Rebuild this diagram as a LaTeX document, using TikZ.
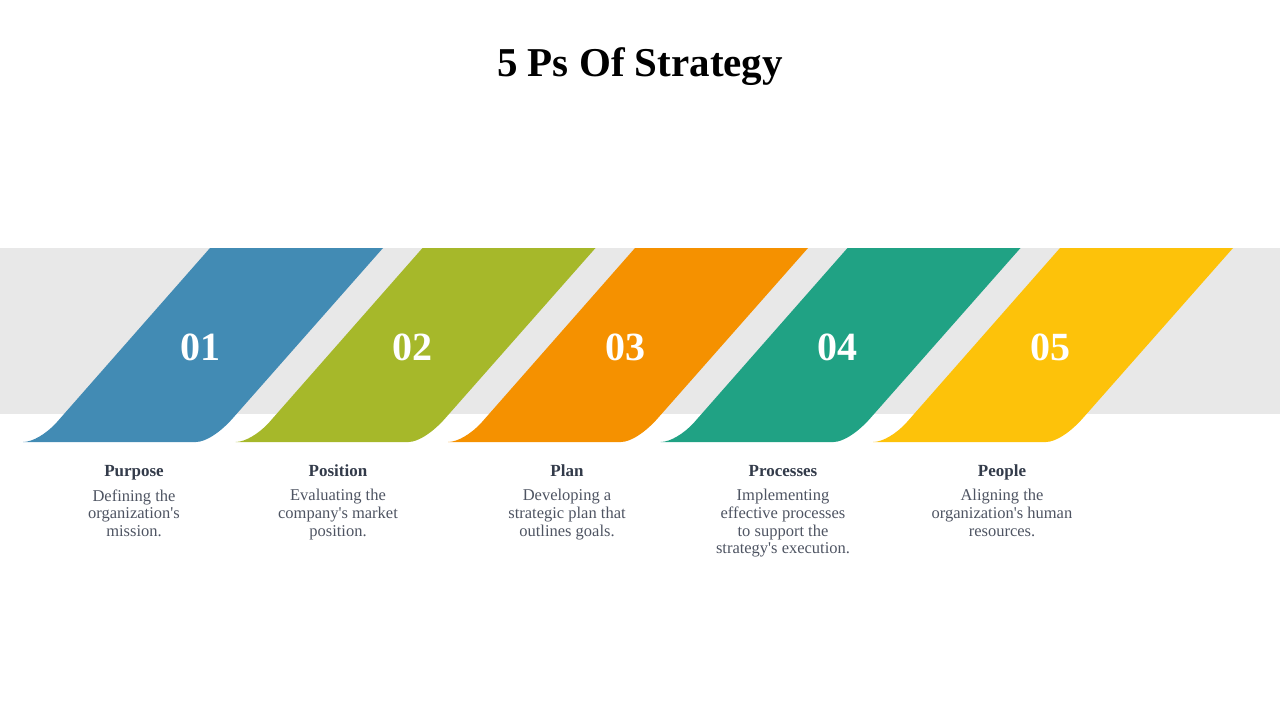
\documentclass[tikz,border=0pt]{standalone}
\usepackage{fontspec}
\setmainfont{Liberation Serif}
\usetikzlibrary{positioning}

\definecolor{tabblue}{HTML}{428BB4}
\definecolor{tabgreen}{HTML}{A6B82A}
\definecolor{taborange}{HTML}{F59100}
\definecolor{tabteal}{HTML}{20A284}
\definecolor{tabyellow}{HTML}{FDC20A}
\definecolor{bandgray}{HTML}{E8E8E8}
\definecolor{headink}{HTML}{333B4A}
\definecolor{descink}{HTML}{4E5462}

\begin{document}
\begin{tikzpicture}[
    x=1pt, y=-1pt,
    node distance=9pt,
    tab/.pic={
        \fill[pic actions] (210,248) -- (383,248) -- (233,418)
            .. controls (220.4,432.4) and (205.6,442) .. (196,442)
            -- (23,442) .. controls (32.6,442) and (46.2,434) .. (57,422) -- cycle;
    },
    num/.style={anchor=base, inner sep=0, text=white, font=\fontsize{40}{44}\selectfont\bfseries},
    head/.style={anchor=base, inner sep=0, text height=12pt, text depth=4pt, text=headink, font=\fontsize{17}{20}\selectfont\bfseries},
    desc/.style={inner sep=0, align=center, text=descink, font=\fontsize{16.5}{17.7}\selectfont}
]
\useasboundingbox (0,0) rectangle (1280,720);

% Title
\node[font=\fontsize{41}{46}\selectfont\bfseries, anchor=base] (title) at (640,76) {5 Ps Of Strategy};

% Band and tabs
\fill[bandgray] (0,248) rectangle (1280,414);
\pic[fill=tabblue] at (0,0) {tab};
\pic[fill=tabgreen] at (212.5,0) {tab};
\pic[fill=taborange] at (425,0) {tab};
\pic[fill=tabteal] at (637.5,0) {tab};
\pic[fill=tabyellow] at (850,0) {tab};

% Numbers
\node[num] (n1) at (200,360) {01};
\node[num] (n2) at (412.5,360) {02};
\node[num] (n3) at (625,360) {03};
\node[num] (n4) at (837.5,360) {04};
\node[num] (n5) at (1050,360) {05};

% Headings
\node[head] (purpose) at (134,476) {Purpose};
\node[head] (position) at (338,476) {Position};
\node[head] (plan) at (567,476) {Plan};
\node[head] (processes) at (783,476) {Processes};
\node[head] (people) at (1002,476) {People};

% Descriptions
\node[desc, below=of purpose] (purposetxt) {Defining the\\organization\textquotesingle s\\mission.};
\node[desc, below=of position] (positiontxt) {Evaluating the\\company\textquotesingle s market\\position.};
\node[desc, below=of plan] (plantxt) {Developing a\\strategic plan that\\outlines goals.};
\node[desc, below=of processes] (processestxt) {Implementing\\effective processes\\to support the\\strategy\textquotesingle s execution.};
\node[desc, below=of people] (peopletxt) {Aligning the\\organization\textquotesingle s human\\resources.};

\end{tikzpicture}
\end{document}
